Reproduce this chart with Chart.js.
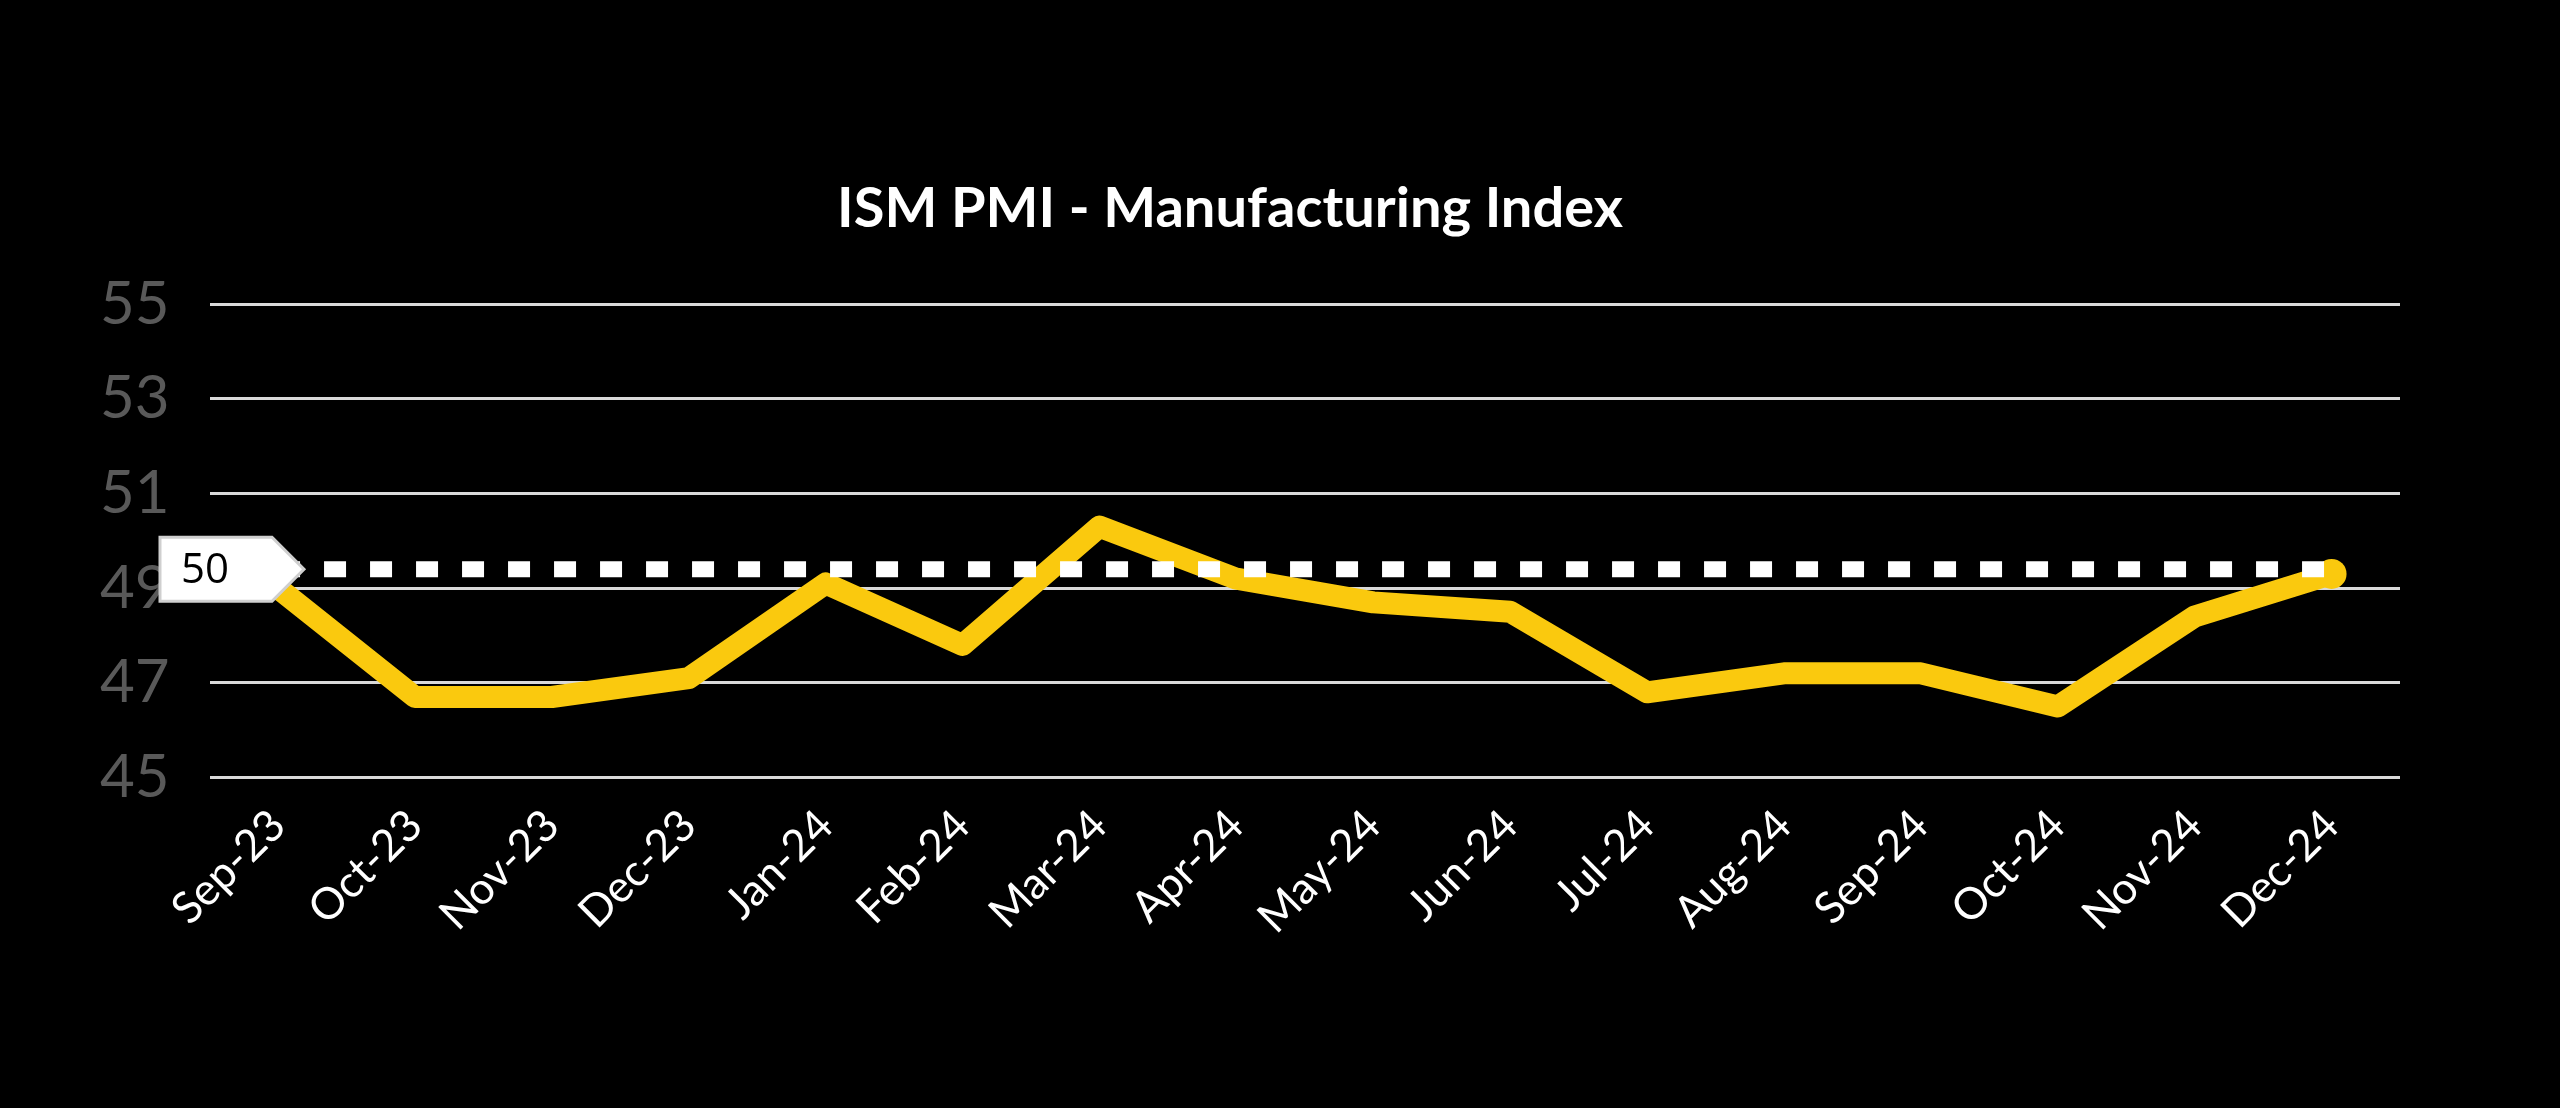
<!DOCTYPE html>
<html>
<head>
<meta charset="utf-8">
<style>
  html, body { margin: 0; padding: 0; background: #000; }
  #wrap { width: 2560px; height: 1108px; }
</style>
<script src="https://cdn.jsdelivr.net/npm/chart.js@4"></script>
</head>
<body>
<div id="wrap"><canvas id="pmi"></canvas></div>
<script>
const months = ["Sep-23", "Oct-23", "Nov-23", "Dec-23", "Jan-24", "Feb-24", "Mar-24", "Apr-24",
  "May-24", "Jun-24", "Jul-24", "Aug-24", "Sep-24", "Oct-24", "Nov-24", "Dec-24"];
const pmi = [49.0, 46.7, 46.7, 47.1, 49.1, 47.8, 50.3, 49.2, 48.7, 48.5, 46.8, 47.2, 47.2, 46.5, 48.4, 49.3];
const threshold = 49.4;   // where the "50" line sits in the picture
const thresholdLabel = "50";
const yTicks = [45, 47, 49, 51, 53, 55];

const yellow = "#FAC90E";

// the little white arrow tag with "50" at the left end of the dotted line
const tagPlugin = {
  id: "tag",
  afterDatasetsDraw(chart) {
    const c = chart.ctx;
    const y = chart.scales.y.getPixelForValue(threshold);
    const x0 = 160, x1 = 272, x2 = 304, h = 32;
    c.save();
    c.beginPath();
    c.moveTo(x0, y - h);
    c.lineTo(x1, y - h);
    c.lineTo(x2, y);
    c.lineTo(x1, y + h);
    c.lineTo(x0, y + h);
    c.closePath();
    c.fillStyle = "#fff";
    c.fill();
    c.strokeStyle = "#cfcfcf";
    c.lineWidth = 3;
    c.stroke();
    c.fillStyle = "#000";
    c.font = "42px 'Open Sans'";
    c.textAlign = "center";
    c.textBaseline = "middle";
    c.fillText(thresholdLabel, 205, y + 2);
    c.restore();
  }
};

new Chart(document.getElementById("pmi"), {
  type: "line",
  data: {
    labels: months,
    datasets: [
      {
        label: "PMI",
        data: pmi,
        borderColor: yellow,
        backgroundColor: yellow,
        borderWidth: 22,
        borderCapStyle: "round",
        borderJoinStyle: "round",
        pointRadius: pmi.map((v, i) => (i === pmi.length - 1 ? 15 : 0)),
        pointBorderWidth: 0,
        tension: 0,
      },
      {
        label: "Threshold",
        data: months.map(() => threshold),
        borderColor: "#fff",
        borderWidth: 16,
        borderDash: [22, 24],
        pointRadius: 0,
        order: -1,
      },
    ],
  },
  options: {
    responsive: true,
    maintainAspectRatio: false,
    animation: false,
    layout: { padding: { left: 60, right: 160, top: 175, bottom: 150 } },
    plugins: {
      legend: { display: false },
      tooltip: { enabled: false },
      title: {
        display: true,
        text: "ISM PMI - Manufacturing Index",
        color: "#fff",
        font: { family: "Lato", size: 56, weight: "bold" },
        padding: { top: 0, bottom: 62 },
      },
    },
    scales: {
      x: {
        offset: true,
        grid: { display: false },
        border: { display: false },
        ticks: {
          color: "#fff",
          font: { family: "Lato", size: 44 },
          maxRotation: 45,
          minRotation: 45,
          padding: 14,
        },
      },
      y: {
        min: 45,
        max: 55,
        afterBuildTicks: (axis) => {
          axis.ticks = yTicks.map((v) => ({ value: v }));
        },
        grid: { color: "#d9d9d9", lineWidth: 3, drawTicks: false },
        border: { display: false },
        ticks: {
          color: "#595959",
          font: { family: "Lato", size: 60 },
          padding: 40,
        },
      },
    },
  },
  plugins: [tagPlugin],
});
</script>
</body>
</html>
